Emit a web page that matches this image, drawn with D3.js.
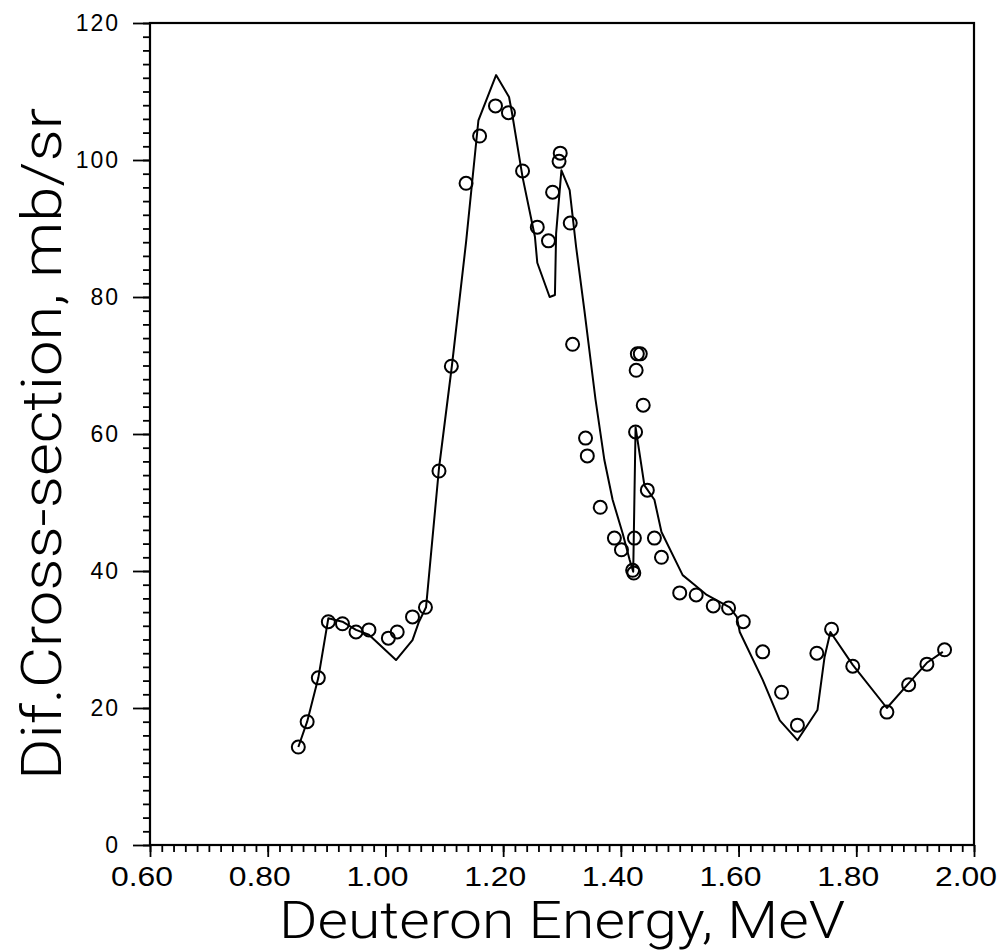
<!DOCTYPE html>
<html>
<head>
<meta charset="utf-8">
<script src="https://cdn.jsdelivr.net/npm/d3@7"></script>
<style>
  html, body { margin: 0; padding: 0; background: #fff; }
  svg { display: block; }
</style>
</head>
<body>
<svg id="chart" width="1002" height="951"></svg>
<script>
// ---- data ----
const pointEnergy = [0.852,0.867,0.886,0.903,0.927,0.950,0.972,1.005,1.020,1.046,1.068,
  1.091,1.112,1.137,1.160,1.187,1.209,1.233,1.258,1.277,1.284,1.295,1.297,1.314,1.318,
  1.340,1.343,1.365,1.389,1.401,1.420,1.422,1.423,1.425,1.426,1.428,1.433,1.438,1.445,
  1.457,1.469,1.500,1.528,1.557,1.583,1.608,1.641,1.673,1.700,1.733,1.758,1.794,1.852,
  1.889,1.920,1.950];
const pointValue = [14.3,18.0,24.4,32.6,32.3,31.1,31.4,30.2,31.1,33.3,34.7,
  54.6,69.9,96.6,103.5,107.9,106.9,98.4,90.2,88.2,95.3,99.8,101.0,90.8,73.1,
  59.4,56.8,49.3,44.8,43.1,40.1,39.7,44.8,60.3,69.3,71.7,71.7,64.2,51.8,
  44.8,42.0,36.8,36.5,34.9,34.6,32.6,28.2,22.3,17.5,28.0,31.5,26.1,19.4,
  23.4,26.4,28.5];

const curveEnergy = [0.852,0.867,0.886,0.903,0.927,0.950,0.972,1.018,1.046,1.057,1.069,
  1.091,1.113,1.137,1.158,1.188,1.210,1.215,1.233,1.254,1.258,1.279,1.288,1.290,1.299,
  1.313,1.324,1.338,1.357,1.372,1.386,1.403,1.415,1.421,1.425,1.440,1.457,1.469,1.505,
  1.525,1.546,1.585,1.597,1.602,1.641,1.670,1.700,1.734,1.746,1.756,1.794,1.852,1.887,
  1.920,1.947];
const curveValue = [14.3,18.0,24.4,33.1,32.6,31.4,30.7,27.0,29.9,32.6,34.7,
  55.0,70.0,88.0,105.8,112.4,109.2,106.9,97.5,88.8,85.0,80.0,80.3,89.3,98.5,
  95.6,87.3,78.1,65.0,56.2,50.4,45.5,41.6,39.9,61.0,52.5,50.4,45.7,39.4,
  38.0,36.5,34.7,33.3,31.1,24.1,18.2,15.3,19.7,27.4,31.1,26.3,20.0,23.4,
  26.6,28.2];

const xTicks = [0.6,0.8,1.0,1.2,1.4,1.6,1.8,2.0];
const xTickLabels = ["0.60","0.80","1.00","1.20","1.40","1.60","1.80","2.00"];
const yTicks = [0,20,40,60,80,100,120];
const yTickLabels = ["0","20","40","60","80","100","120"];
const xTitle = "Deuteron Energy, MeV";
const yTitle = "Dif.Cross-section, mb/sr";

// ---- layout ----
const svg = d3.select("#chart");
const mLeft = 150, mRight = 974, mTop = 23, mBottom = 845;
const x = d3.scaleLinear().domain([0.6, 2.0]).range([mLeft, mRight]);
const y = d3.scaleLinear().domain([0, 120]).range([mBottom, mTop]);

const ink = "#000";

// minor ticks
const xMinor = d3.range(0, 71).map(i => 0.6 + i * 0.02);
const yMinor = d3.range(0, 61).map(i => i * 2);

const gx = svg.append("g").attr("transform", `translate(0,${mBottom})`);
gx.call(d3.axisBottom(x).tickValues(xMinor).tickSize(7).tickFormat(""));
gx.call(g => g.select(".domain").remove());
const gxM = svg.append("g").attr("transform", `translate(0,${mBottom})`);
gxM.call(d3.axisBottom(x).tickValues(xTicks).tickSize(12).tickFormat(""));
gxM.call(g => g.select(".domain").remove());

const gy = svg.append("g").attr("transform", `translate(${mLeft},0)`);
gy.call(d3.axisLeft(y).tickValues(yMinor).tickSize(7).tickFormat(""));
gy.call(g => g.select(".domain").remove());
const gyM = svg.append("g").attr("transform", `translate(${mLeft},0)`);
gyM.call(d3.axisLeft(y).tickValues(yTicks).tickSize(17).tickFormat(""));
gyM.call(g => g.select(".domain").remove());

svg.selectAll(".tick line").attr("stroke", ink).attr("stroke-width", 1.8);

// frame
svg.append("rect")
  .attr("x", mLeft).attr("y", mTop)
  .attr("width", mRight - mLeft).attr("height", mBottom - mTop)
  .attr("fill", "none").attr("stroke", ink).attr("stroke-width", 2.2);

// tick labels
svg.append("g").selectAll("text").data(xTicks).join("text")
  .attr("x", d => x(d) - 8)
  .attr("y", 886)
  .attr("text-anchor", "middle")
  .attr("font-family", "Liberation Sans, Arial, sans-serif")
  .attr("font-size", 27)
  .attr("textLength", 62)
  .attr("lengthAdjust", "spacingAndGlyphs")
  .attr("fill", ink)
  .text((d, i) => xTickLabels[i]);

svg.append("g").selectAll("text").data(yTicks).join("text")
  .attr("x", 120)
  .attr("y", d => y(d) + 8)
  .attr("text-anchor", "end")
  .attr("font-family", "Liberation Sans, Arial, sans-serif")
  .attr("font-size", 23)
  .attr("letter-spacing", 2)
  .attr("fill", ink)
  .text((d, i) => yTickLabels[i]);

// axis titles
svg.append("text")
  .attr("x", 279).attr("y", 938)
  .attr("font-family", "Roboto, Liberation Sans, sans-serif")
  .attr("font-weight", 300)
  .attr("font-size", 52)
  .attr("textLength", 566)
  .attr("lengthAdjust", "spacingAndGlyphs")
  .attr("fill", ink)
  .text(xTitle);

svg.append("text")
  .attr("transform", "translate(61,780) rotate(-90)")
  .attr("font-family", "Roboto, Liberation Sans, sans-serif")
  .attr("font-weight", 300)
  .attr("font-size", 56)
  .attr("textLength", 672)
  .attr("lengthAdjust", "spacingAndGlyphs")
  .attr("fill", ink)
  .text(yTitle);

// curve
const curveData = curveEnergy.map((e, i) => [e, curveValue[i]]);
svg.append("path")
  .datum(curveData)
  .attr("fill", "none")
  .attr("stroke", ink)
  .attr("stroke-width", 2)
  .attr("stroke-linejoin", "round")
  .attr("d", d3.line().x(d => x(d[0])).y(d => y(d[1])));

// points
const pts = pointEnergy.map((e, i) => [e, pointValue[i]]);
svg.append("g").selectAll("circle").data(pts).join("circle")
  .attr("cx", d => x(d[0]))
  .attr("cy", d => y(d[1]))
  .attr("r", 6.5)
  .attr("fill", "none")
  .attr("stroke", ink)
  .attr("stroke-width", 2);
</script>
</body>
</html>
